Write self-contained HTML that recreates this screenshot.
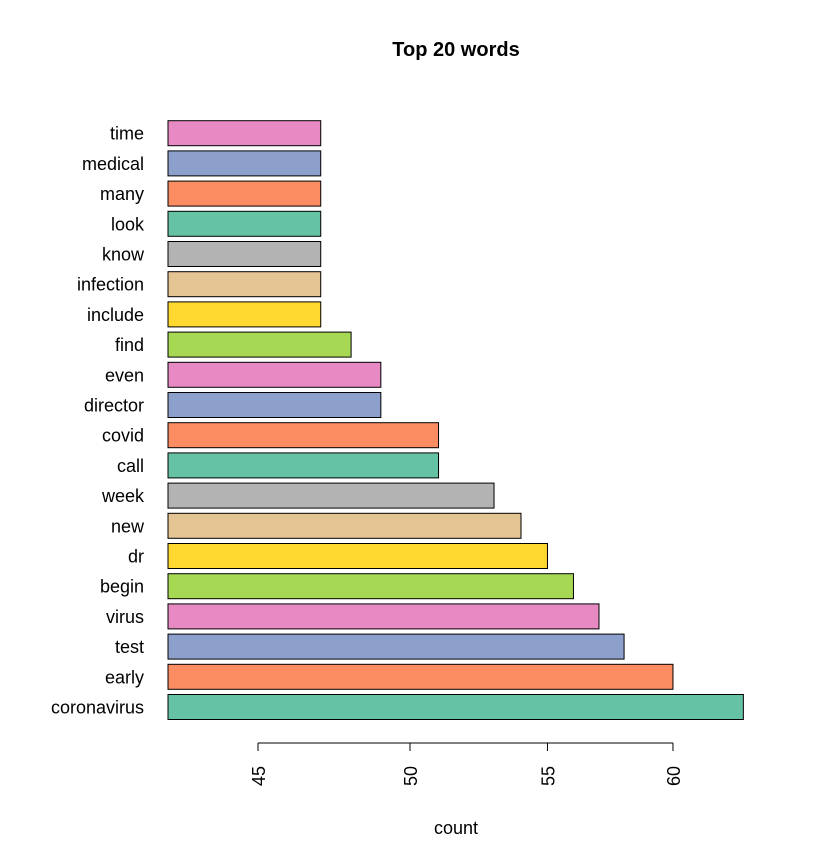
<!DOCTYPE html>
<html><head><meta charset="utf-8"><style>
body{margin:0;background:#fff}
svg text{font-family:"Liberation Sans",Arial,sans-serif}
</style></head><body>
<svg id="chart" width="840" height="840" xmlns="http://www.w3.org/2000/svg">
<rect width="840" height="840" fill="#fff"/>
<text x="456" y="56" font-size="20" font-weight="bold" text-anchor="middle">Top 20 words</text>
<text x="456" y="834" font-size="18" text-anchor="middle">count</text>
<g id="bars"></g><g id="axis"></g>
</svg>
<script>
const words=["coronavirus","early","test","virus","begin","dr","new","week","call","covid","director","even","find","include","infection","know","look","many","medical","time"];
const counts=[63,60,58,57,56,55,54,53,51,51,49,49,48,47,47,47,47,47,47,47];
const ticks=[45,50,55,60];
const palette=["#66C2A5","#FC8D62","#8DA0CB","#E78AC3","#A6D854","#FFD92F","#E5C494","#B3B3B3"];
const NS="http://www.w3.org/2000/svg";
function xs(v){return 258+Math.log(v/45)*1442.5;}
function yc(i){return 707-i*30.2;}
const bars=document.getElementById('bars');
words.forEach((w,i)=>{
  const r=document.createElementNS(NS,'rect');
  
  
  r.setAttribute('x',168);r.setAttribute('y',yc(i)-12.5);
  r.setAttribute('width',xs(counts[i])-168);r.setAttribute('height',25);
  r.setAttribute('fill',palette[i%8]);r.setAttribute('stroke','#000');r.setAttribute('stroke-width',1);
  bars.appendChild(r);
  const t=document.createElementNS(NS,'text');
  
  
  t.setAttribute('x',144);t.setAttribute('y',yc(i)+6.5);
  t.setAttribute('font-size',18);t.setAttribute('text-anchor','end');
  t.textContent=w;bars.appendChild(t);
});
const ax=document.getElementById('axis');
const l=document.createElementNS(NS,'line');


l.setAttribute('x1',xs(ticks[0]));l.setAttribute('x2',xs(ticks[ticks.length-1]));
l.setAttribute('y1',743);l.setAttribute('y2',743);l.setAttribute('stroke','#000');
ax.appendChild(l);
ticks.forEach(v=>{
  const tk=document.createElementNS(NS,'line');
  
  
  tk.setAttribute('x1',xs(v));tk.setAttribute('x2',xs(v));tk.setAttribute('y1',743);tk.setAttribute('y2',751);tk.setAttribute('stroke','#000');
  ax.appendChild(tk);
  const t=document.createElementNS(NS,'text');
  
  
  t.setAttribute('transform','translate('+(xs(v)+7)+',776) rotate(-90)');
  t.setAttribute('font-size',18);t.setAttribute('text-anchor','middle');
  t.textContent=v;ax.appendChild(t);
});
</script>
</body></html>
